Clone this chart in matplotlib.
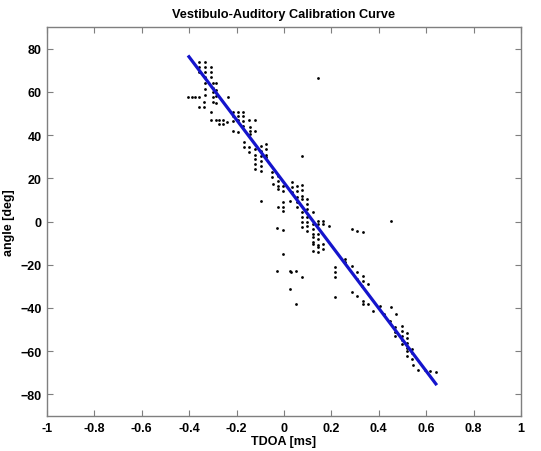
import matplotlib
matplotlib.use("Agg")
import matplotlib.pyplot as plt
import numpy as np

plt.rcParams['font.family'] = ['Liberation Sans', 'DejaVu Sans']

# Measured TDOA [ms] and angle [deg] samples
tdoa = [
    -0.36, -0.36, -0.36,
    -0.335, -0.335, -0.335, -0.335,
    -0.31, -0.31, -0.31,
    -0.30, -0.30, -0.30, -0.30, -0.30,
    -0.285, -0.285, -0.285, -0.285,
    -0.335, -0.335, -0.335,
    -0.235,
    -0.406, -0.389, -0.376, -0.357,
    -0.338, -0.338, -0.357, -0.307,
    -0.309, -0.287, -0.273, -0.259, -0.239, -0.273, -0.259,
    -0.215, -0.215, -0.215,
    -0.194, -0.194, -0.194,
    -0.173, -0.173, -0.173, -0.173,
    -0.148, -0.122,
    -0.215, -0.194,
    -0.143, -0.143, -0.143, -0.122,
    -0.169, -0.169, -0.148, -0.148,
    -0.122, -0.122, -0.122, -0.122, -0.122,
    -0.097, -0.097, -0.097, -0.097, -0.097, -0.097,
    -0.076, -0.076, -0.076, -0.076,
    -0.051, -0.051, -0.046,
    -0.025, -0.025, -0.025, -0.025,
    -0.004, -0.004,
    0.034, 0.034, 0.034,
    0.055, 0.055, 0.055,
    0.076, 0.076, 0.076, 0.076,
    0.076,
    -0.097, -0.025, -0.004, -0.004, -0.004, 0.025, 0.055, 0.055,
    0.076, 0.076, 0.076, 0.076,
    0.097, 0.097, 0.097, 0.097, 0.097, 0.097, 0.097,
    0.122, 0.122, 0.122, 0.122, 0.122, 0.122, 0.122, 0.122,
    0.143, 0.143, 0.143, 0.143, 0.143, 0.143, 0.143,
    0.165, 0.165, 0.165, 0.165, 0.19,
    -0.03, -0.004, -0.004,
    -0.03, 0.025, 0.03, 0.051, 0.076, 0.025, 0.051,
    0.287, 0.308, 0.333, 0.451,
    0.215, 0.215, 0.215, 0.257, 0.257, 0.287,
    0.308, 0.308, 0.333, 0.333, 0.354,
    0.287, 0.308, 0.215,
    0.329, 0.333, 0.333, 0.354, 0.376, 0.405, 0.422, 0.451, 0.473,
    0.447, 0.468, 0.468, 0.468,
    0.498, 0.498, 0.498, 0.498, 0.498,
    0.519, 0.519, 0.519, 0.519, 0.519, 0.519,
    0.540, 0.540, 0.540,
    0.544, 0.565, 0.595, 0.616, 0.641,
    0.143,
]
angle = [
    74.0, 71.7, 69.4,
    74.0, 71.7, 69.4, 67.0,
    71.7, 69.4, 67.0,
    64.3, 62.0, 60.0, 57.8, 55.5,
    64.0, 61.0, 58.0, 55.0,
    64.3, 61.5, 58.5,
    57.8,
    57.4, 57.4, 57.4, 57.4,
    55.1, 52.8, 52.8, 50.5,
    47.2, 47.2, 47.2, 47.2, 46.0, 45.0, 45.0,
    50.9, 48.6, 46.3,
    50.9, 48.6, 47.0,
    50.9, 48.6, 46.3, 44.0,
    47.2, 47.2,
    41.7, 41.2,
    43.6, 41.7, 40.3, 41.7,
    36.6, 34.3, 34.3, 32.0,
    33.4, 31.0, 28.8, 26.5, 24.2,
    34.8, 32.5, 30.2, 27.9, 25.6, 23.3,
    35.7, 33.4, 31.0, 29.7,
    22.8, 20.5, 17.3,
    21.0, 18.7, 16.4, 15.0,
    16.4, 14.1,
    18.2, 16.0, 13.7,
    16.4, 14.0, 11.5,
    17.0, 14.5, 12.0, 10.4,
    30.2,
    9.4, 6.7, 9.0, 6.7, 4.8, 9.4, 9.0, 6.7,
    4.4, 2.1, -0.2, -2.5,
    10.4, 8.1, 5.8, 2.1, -0.2, -2.1, -4.4,
    4.4, -1.2, -3.5, -5.8, -7.1, -9.4, -10.4, -13.6,
    0.2, -1.2, -5.8, -8.3, -11.0, -11.8, -14.1,
    0.2, -1.2, -10.4, -12.7, -2.1,
    -3.0, -3.9, -15.0,
    -22.8, -22.8, -23.3, -22.8, -25.6, -31.1, -38.0,
    -3.5, -4.4, -4.8, 0.2,
    -21.0, -23.5, -25.6, -17.3, -18.7, -20.5,
    -23.3, -26.5, -25.1, -27.4, -28.8,
    -32.5, -34.3, -34.8,
    -29.7, -36.6, -38.0, -38.0, -41.2, -39.0, -42.6, -39.4, -42.6,
    -45.9, -48.6, -50.9, -52.8,
    -48.2, -50.5, -52.8, -55.0, -56.5,
    -51.8, -54.0, -56.3, -58.5, -60.1, -62.4,
    -58.8, -61.0, -63.4,
    -66.6, -68.9, -68.9, -69.4, -69.8,
    66.5,
]

# Linear calibration fit
fit_slope = -145.3      # deg per ms
fit_intercept = 18.0    # deg
fit_range = [-0.405, 0.645]

x_ticks = [-1, -0.8, -0.6, -0.4, -0.2, 0, 0.2, 0.4, 0.6, 0.8, 1]
x_tick_labels = ['-1', '-0.8', '-0.6', '-0.4', '-0.2', '0', '0.2', '0.4', '0.6', '0.8', '1']
y_ticks = [-80, -60, -40, -20, 0, 20, 40, 60, 80]

fig = plt.figure(figsize=(5.41, 4.52), dpi=100)
ax = fig.add_axes([0.0869, 0.0774, 0.876, 0.8606])

ax.scatter(tdoa, angle, s=4, color='black', linewidths=0, zorder=2)
fx = np.array(fit_range)
ax.plot(fx, fit_slope * fx + fit_intercept, color='#1414cc', lw=2.3, zorder=3,
        solid_capstyle='butt')

ax.set_xlim(-1, 1)
ax.set_ylim(-90, 90)
ax.set_xticks(x_ticks)
ax.set_xticklabels(x_tick_labels)
ax.set_yticks(y_ticks)

for s in ax.spines.values():
    s.set_color('#7f7f7f')
    s.set_linewidth(1.0)
ax.tick_params(direction='in', length=4, width=0.8, color='#7f7f7f',
               top=True, right=True, labelsize=9, pad=4)
for lbl in ax.get_xticklabels() + ax.get_yticklabels():
    lbl.set_fontweight('bold')

ax.set_title('Vestibulo-Auditory Calibration Curve', fontsize=9.2, fontweight='bold', pad=7)
ax.set_xlabel('TDOA [ms]', fontsize=9, fontweight='bold', labelpad=1)
ax.set_ylabel('angle [deg]', fontsize=9, fontweight='bold', labelpad=4)

fig.savefig('out.png', dpi=100)
